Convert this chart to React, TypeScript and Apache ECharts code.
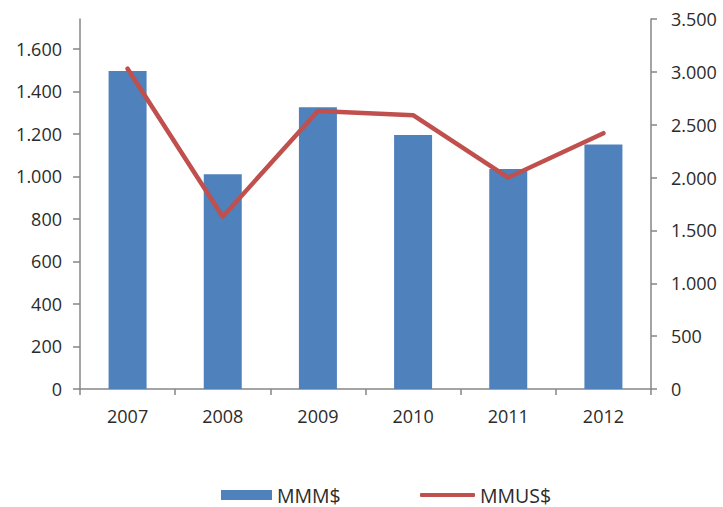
import React, { useEffect, useRef } from "react";
import * as echarts from "echarts";

const categories = ["2007", "2008", "2009", "2010", "2011", "2012"];
const mmmValues = [1495, 1010, 1325, 1195, 1035, 1150];
const mmusValues = [3030, 1630, 2630, 2590, 2000, 2420];
const leftTicks = [0, 200, 400, 600, 800, 1000, 1200, 1400, 1600];
const rightTicks = [0, 500, 1000, 1500, 2000, 2500, 3000, 3500];
const seriesNames = ["MMM$", "MMUS$"];

const fmt = (v: number) => String(Math.round(v)).replace(/\B(?=(\d{3})+(?!\d))/g, ".");

const FONT = "'Open Sans', sans-serif";
const TEXT = "#2b2b2b";
const AXIS = "#868686";

export default function App() {
  const ref = useRef<HTMLDivElement>(null);
  useEffect(() => {
    if (!ref.current) return;
    const chart = echarts.init(ref.current, null, { renderer: "svg" });
    chart.setOption({
      animation: false,
      backgroundColor: "#ffffff",
      textStyle: { fontFamily: FONT },
      grid: { left: 80, right: 72, top: 19, bottom: 118, containLabel: false },
      legend: [
        {
          data: [{ name: seriesNames[0], icon: "rect" }],
          left: 221,
          top: 485,
          padding: 0,
          itemWidth: 51,
          itemHeight: 10,
          textStyle: { fontFamily: FONT, fontSize: 19.5, color: TEXT },
        },
        {
          data: [{ name: seriesNames[1], icon: "roundRect" }],
          left: 420,
          top: 485,
          padding: 0,
          itemWidth: 55,
          itemHeight: 4,
          textStyle: { fontFamily: FONT, fontSize: 19.5, color: TEXT },
        },
      ],
      xAxis: {
        type: "category",
        data: categories,
        boundaryGap: true,
        axisLine: { lineStyle: { color: AXIS, width: 1.5 } },
        axisTick: { show: true, length: 6, lineStyle: { color: AXIS, width: 1.5 } },
        axisLabel: { color: TEXT, fontSize: 18, fontFamily: FONT, margin: 18 },
        splitLine: { show: false },
      },
      yAxis: [
        {
          type: "value",
          position: "left",
          min: 0,
          max: 1740,
          interval: 200,
          axisLine: { show: true, lineStyle: { color: AXIS, width: 1.5 } },
          axisTick: { show: true, length: 7, customValues: leftTicks, lineStyle: { color: AXIS, width: 1.5 } },
          axisLabel: {
            customValues: leftTicks,
            color: TEXT,
            fontSize: 18,
            fontFamily: FONT,
            margin: 18,
            formatter: (v: number) => fmt(v),
          },
          splitLine: { show: false },
        },
        {
          type: "value",
          position: "right",
          min: 0,
          max: 3500,
          interval: 500,
          axisLine: { show: true, lineStyle: { color: AXIS, width: 1.5 } },
          axisTick: { show: true, length: 6, customValues: rightTicks, lineStyle: { color: AXIS, width: 1.5 } },
          axisLabel: {
            customValues: rightTicks,
            color: TEXT,
            fontSize: 18,
            fontFamily: FONT,
            margin: 20,
            formatter: (v: number) => fmt(v),
          },
          splitLine: { show: false },
        },
      ],
      series: [
        {
          name: seriesNames[0],
          type: "bar",
          yAxisIndex: 0,
          data: mmmValues,
          barWidth: 38,
          itemStyle: { color: "#4F81BD" },
        },
        {
          name: seriesNames[1],
          type: "line",
          yAxisIndex: 1,
          data: mmusValues,
          symbol: "none",
          lineStyle: { color: "#C0504D", width: 4.5, cap: "round", join: "round" },
          itemStyle: { color: "#C0504D" },
        },
      ],
    });
    return () => chart.dispose();
  }, []);
  return (
    <div
      ref={ref}
      style={{ position: "fixed", left: 0, top: 0, width: 723, height: 507 }}
    />
  );
}
